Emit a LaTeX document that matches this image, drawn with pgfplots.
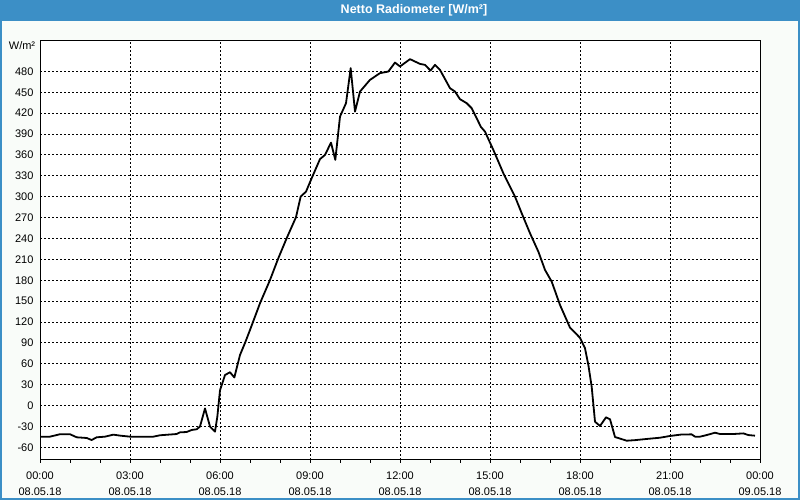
\documentclass[border=0pt]{standalone}
\usepackage{fontspec}
\setmainfont{Liberation Sans}
\usepackage{pgfplots}
\pgfplotsset{compat=1.18}
\definecolor{titleblue}{RGB}{60,143,198}
\definecolor{bgc}{RGB}{249,252,249}
\begin{document}
\begin{tikzpicture}
\useasboundingbox (0pt,0pt) rectangle (800pt,500pt);
\fill[bgc] (0pt,0pt) rectangle (800pt,500pt);
\fill[titleblue] (0pt,479.3pt) rectangle (800pt,500pt);
\draw[titleblue, line width=2pt] (1pt,1pt) rectangle (799pt,499pt);
\node[white, font=\bfseries\fontsize{12.5}{14}\selectfont] at (414pt,490pt) {Netto Radiometer [W/m²]};
\node[font=\fontsize{11}{12}\selectfont] at (22pt,454pt) {W/m²};
\begin{axis}[
  at={(40pt,40pt)}, anchor=south west,
  scale only axis, width=720pt, height=419.3pt,
  xmin=0, xmax=24, ymin=-78, ymax=524,
  axis background/.style={fill=white},
  axis line style={black, line width=1pt},
  xtick={0,3,...,24},
  xticklabels={{00:00\\08.05.18},{03:00\\08.05.18},{06:00\\08.05.18},{09:00\\08.05.18},{12:00\\08.05.18},{15:00\\08.05.18},{18:00\\08.05.18},{21:00\\08.05.18},{00:00\\09.05.18}},
  minor x tick num=2,
  ytick={-60,-30,...,480},
  xtick pos=bottom, ytick pos=left,
  tick align=outside,
  major tick length=3pt, minor tick length=3pt,
  tick style={black, line width=1pt},
  ytick style={draw=none},
  grid=major,
  major grid style={black, dash pattern=on 2pt off 2pt, line width=1pt},
  ticklabel style={font=\fontsize{11}{16.5}\selectfont},
  xticklabel style={align=center, yshift=-5pt},
  /pgf/number format/assume math mode=true,
  yticklabel={\pgfmathprintnumber{\tick}},
]
\addplot[black, line width=1.8pt, line join=round, no marks] coordinates {
(0.000,-44.5) (0.333,-44.5) (0.667,-41) (1.000,-41) (1.222,-45.4) (1.556,-46.4)
(1.722,-49.3) (1.889,-45.4) (2.167,-44.5) (2.444,-41.6) (2.667,-43) (3.000,-44.5)
(3.778,-44.5) (4.000,-42.5) (4.556,-40.7) (4.667,-38.3) (4.889,-37.8) (5.056,-34.9)
(5.222,-33.9) (5.333,-30) (5.500,-4) (5.667,-30) (5.833,-37.3) (5.911,-15.8)
(6.000,22) (6.167,44) (6.333,48) (6.478,40.5) (6.667,72.8) (6.833,90)
(7.000,108.7) (7.333,147) (7.667,180.5) (7.944,211.7) (8.222,240.4) (8.533,270.6)
(8.689,300.2) (8.867,307.3) (9.056,326.6) (9.333,354) (9.500,360) (9.700,377.7)
(9.844,352.9) (10.000,415) (10.200,434.3) (10.356,484.6) (10.500,422.2) (10.667,451)
(11.000,467.8) (11.333,477.4) (11.611,479.7) (11.833,492.6) (12.000,487) (12.333,497.5)
(12.667,490.7) (12.833,489.3) (13.017,481.1) (13.167,489.3) (13.333,482.1) (13.667,455.8)
(13.833,451) (14.000,440) (14.222,434.3) (14.389,427.1) (14.700,400) (14.833,393.5)
(15.111,367.2) (15.444,333.8) (15.833,300.2) (16.056,276.3) (16.333,247.6) (16.611,221.2)
(16.833,194.9) (17.056,178.1) (17.333,144.6) (17.667,112) (18.000,97.5) (18.167,82.4)
(18.278,58.5) (18.389,27.3) (18.500,-23) (18.667,-29.2) (18.867,-16.7) (19.000,-19.5)
(19.167,-45) (19.556,-50.3) (19.833,-49.5) (20.222,-47.8) (20.667,-46) (21.000,-43.5)
(21.389,-41.4) (21.722,-41.2) (21.833,-44.5) (22.000,-44.5) (22.222,-42.2) (22.500,-38.8)
(22.667,-40.7) (23.111,-40.7) (23.444,-39.8) (23.611,-42.2) (23.833,-43.1)
};
\end{axis}
\end{tikzpicture}
\end{document}
